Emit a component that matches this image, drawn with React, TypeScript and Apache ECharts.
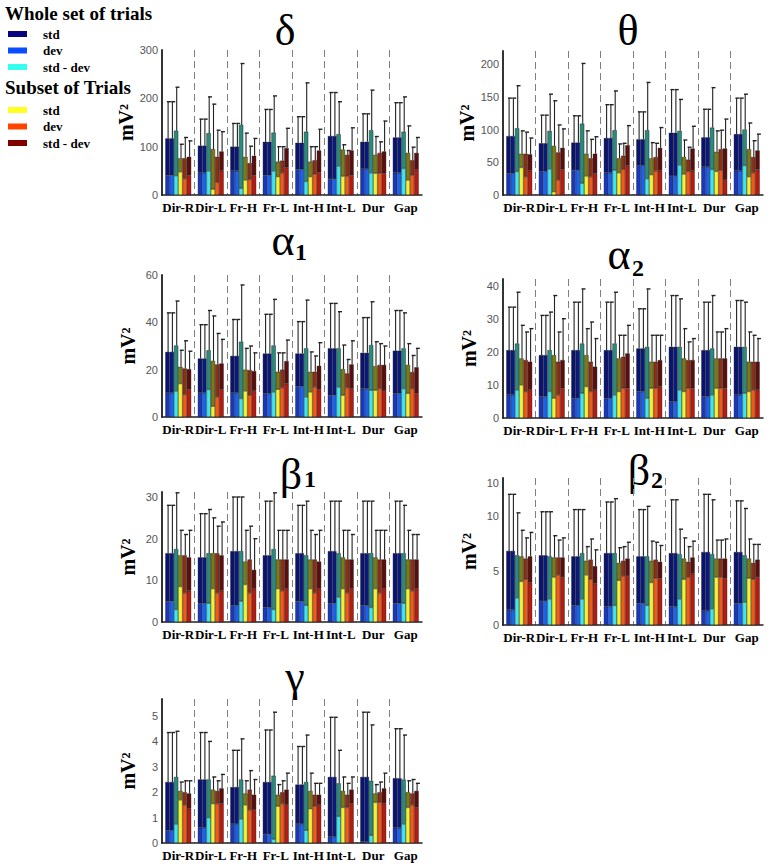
import React, { useEffect, useRef } from 'react';
import * as echarts from 'echarts';

const categories = ['Dir-R', 'Dir-L', 'Fr-H', 'Fr-L', 'Int-H', 'Int-L', 'Dur', 'Gap'];

const legendWhole = ['std', 'dev', 'std - dev'];
const legendSubset = ['std', 'dev', 'std - dev'];

// bar totals (dark top), lower part (bright), error bar top — per category, 6 bars each
const deltaTops = [[117,117,133,76,76,79],[102,102,128,95,79,90],[100,100,145,79,66,81],[110,110,129,69,71,97],[108,108,131,69,72,92],[122,122,126,94,83,92],[110,110,134,83,87,90],[119,119,131,87,72,87]];
const deltaLowers = [[41,41,40,48,34,41],[46,46,50,12,26,50],[50,50,14,31,32,41],[41,41,50,38,46,57],[53,53,28,38,43,47],[33,33,60,39,39,41],[54,54,46,45,45,45],[46,46,55,31,41,52]];
const deltaErrs = [[193,193,223,105,119,112],[157,157,203,188,134,131],[148,148,272,128,101,117],[177,177,205,100,100,138],[162,162,232,100,100,136],[212,212,193,104,92,139],[168,168,217,121,110,153],[191,191,203,143,99,119]];

const thetaTops = [[90,90,102,63,63,62],[79,79,98,75,65,72],[80,80,109,63,56,63],[87,87,99,56,60,76],[85,85,99,56,58,72],[95,95,98,58,54,71],[88,88,103,66,70,71],[93,93,100,70,58,68]];
const thetaLowers = [[33,33,36,42,28,37],[36,36,40,5,23,39],[38,38,18,29,28,33],[34,34,38,34,39,45],[45,45,25,31,37,37],[29,29,46,32,36,37],[43,43,39,36,38,23],[37,37,45,28,34,39]];
const thetaErrs = [[148,148,167,98,96,87],[122,122,154,144,107,101],[121,121,201,98,85,89],[138,138,159,78,79,106],[127,127,172,80,79,103],[161,161,146,84,73,105],[131,131,164,98,99,116],[148,148,154,110,83,93]];

const alpha1Tops = [[27.5,27.5,30.2,21.2,20.5,20.2],[24.7,24.7,28.2,23.7,22.2,22.6],[25.8,25.8,31.8,20,19.8,19.4],[26.8,26.8,30.2,19.1,20,23.6],[26.8,26.8,29,19.1,19.1,21.6],[29,29,29,20.2,18.4,22.2],[27.1,27.1,30.4,21.5,22,22],[28,28,29,22,19,21]];
const alpha1Lowers = [[10.2,10.2,11,14.1,9.5,11.7],[10.2,10.2,11.6,4.5,8.5,11.6],[10.2,10.2,7.8,11,9.2,11],[9.9,9.9,10.6,11.7,12.4,14.1],[13,13,8.5,10.6,12.7,11.6],[9.2,9.2,12.7,9.2,12.4,12],[12,12,11.3,11.3,12,11],[10,10,12,10,12,10]];
const alpha1Errs = [[44,44,49,28.2,32.2,27.8],[39,39,45,42.7,35.3,32.8],[41.2,41.2,55.8,29,30,27.1],[43.4,43.4,49.7,27.1,27.1,32.5],[40.3,40.3,49.4,27.5,25.8,31.4],[48,48,44.5,30.4,24.3,32.2],[42,42,48.7,31.8,31,30],[45,45,44,31,26,29]];

const alpha2Tops = [[20.5,20.5,22.5,18,17.5,17],[19,19,20.5,19,17,17.5],[20.5,20.5,22.5,19,17,15.5],[20.5,20.5,22.5,18,18.5,19.5],[21,21,21.5,17,17,17.5],[21.5,21.5,21.5,18,17.5,17.5],[20.5,20.5,21,18,18,18],[21.5,21.5,21.5,17,17,17]];
const alpha2Lowers = [[7,7,8.5,10,8,8.5],[6.5,6.5,8,6,7,9],[6,6,7.5,9.5,8,8.5],[6,6,7,8,9,9],[8,8,6,9,9,9.5],[5,5,8.5,8,9,9],[6.5,6.5,7,9,9,9],[7,7,7.5,8,8.5,8.5]];
const alpha2Errs = [[33.5,33.5,38,28,26,27],[31,31,32,37,26,30],[35,35,39,27,29,24],[35,35,38,25,25,28],[33,33,39,25,25,25],[37,37,36,27,23,24],[35,35,37,26,26,27],[35.5,35.5,35,26,25,24]];

const beta1Tops = [[16.5,16.5,17.5,16,16,15.5],[15.5,15.5,16.5,16.5,16.5,16],[17,17,17,14.5,15,12.5],[16,16,17.5,15,15,15],[16.5,16.5,16,15,15,14.5],[17,17,16.5,15.5,15,15],[16.5,16.5,16.5,15.5,15,15],[16.5,16.5,16.5,15,15,15]];
const beta1Lowers = [[5,5,3,8.5,7,7.5],[4.5,4.5,4.5,8,7,7.5],[4,4,5,9,7,8],[3.5,3.5,3,8,7.5,8],[5,5,4,8,7,8],[4.5,4.5,6,8,7,8],[4,4,3.5,8,7,8],[4.5,4.5,4.5,8,7.5,8]];
const beta1Errs = [[28,28,31,22,21,22],[26,26,27,25,23,24],[30,30,30,22,23,20],[29,29,31,22,22,22],[28,28,29,22,21,22],[29,29,29,22,22,21],[29,29,29,22,22,22],[29,29,28,22,21,21]];

const beta2Tops = [[6.8,6.8,6.4,6.3,6.1,6.3],[6.4,6.4,6.3,6.2,6.2,6.2],[6.3,6.3,6.6,5.9,6.0,5.4],[6.6,6.6,6.6,5.7,5.9,6.1],[6.3,6.3,6.3,5.9,6.0,5.8],[6.6,6.6,6.5,6.1,5.8,6.2],[6.7,6.7,6.5,6.1,6.1,6.1],[6.7,6.7,6.4,6.1,5.7,6.0]];
const beta2Lowers = [[1.4,1.4,2.5,4.0,4.2,3.9],[2.2,2.2,2.4,4.4,4.6,4.4],[1.8,1.8,2.4,4.6,4.2,3.8],[1.7,1.7,1.8,4.1,4.5,4.5],[2.0,2.0,1.8,3.9,4.3,4.3],[1.7,1.7,2.4,4.2,4.4,4.7],[1.3,1.3,1.5,4.4,4.4,4.3],[2.0,2.0,2.1,4.3,4.2,4.4]];
const beta2Errs = [[12,12,10.3,8.7,8.0,8.5],[10.4,10.4,10.4,8.2,7.8,8.0],[10.6,10.6,10.6,7.2,7.9,6.9],[11.3,11.3,11.6,7.1,7.2,7.6],[10.6,10.6,10.9,7.7,7.6,7.3],[11.5,11.5,8.8,8.0,7.2,7.7],[12,12,11.5,7.8,7.8,7.9],[11.4,11.4,10.7,7.9,7.4,7.4]];

const gammaTops = [[2.4,2.4,2.6,2.05,2.0,1.95],[2.5,2.5,2.5,2.1,2.05,2.15],[2.2,2.2,2.5,1.95,2.1,1.9],[2.4,2.4,2.65,1.9,2.0,2.1],[2.3,2.3,2.4,2.05,1.9,1.9],[2.6,2.6,2.35,2.05,1.9,2.1],[2.6,2.6,2.45,1.95,2.0,2.15],[2.55,2.55,2.5,2.0,1.95,2.05]];
const gammaLowers = [[0.5,0.5,0.75,1.7,1.5,1.35],[0.6,0.6,1.0,1.55,1.55,1.55],[0.75,0.75,0.95,1.5,1.3,1.3],[0.35,0.35,0.15,1.45,1.55,1.5],[0.75,0.75,0.5,1.35,1.45,1.5],[0.25,0.25,1.05,1.4,1.4,1.55],[0.05,0.05,0.3,1.6,1.6,1.55],[0.6,0.6,0.75,1.4,1.5,1.4]];
const gammaErrs = [[4.35,4.35,4.4,2.4,2.45,2.45],[4.35,4.35,4.0,2.6,2.45,2.7],[3.65,3.65,4.1,2.45,2.85,2.5],[4.45,4.45,5.15,2.3,2.45,2.75],[3.8,3.8,4.25,2.75,2.35,2.35],[4.95,4.95,3.65,2.6,2.35,2.6],[5.15,5.15,4.65,2.3,2.4,2.75],[4.5,4.5,4.25,2.45,2.5,2.35]];

const deltaTicks = [0, 100, 200, 300];
const deltaTickLabels = ['0', '100', '200', '300'];
const thetaTicks = [0, 50, 100, 150, 200];
const thetaTickLabels = ['0', '50', '100', '150', '200'];
const alpha1Ticks = [0, 20, 40, 60];
const alpha1TickLabels = ['0', '20', '40', '60'];
const alpha2Ticks = [0, 10, 20, 30, 40];
const alpha2TickLabels = ['0', '10', '20', '30', '40'];
const beta1Ticks = [0, 10, 20, 30];
const beta1TickLabels = ['0', '10', '20', '30'];
const beta2Ticks = [0, 5, 10, 13];
const beta2TickLabels = ['0', '5', '10', '10'];
const gammaTicks = [0, 1, 2, 3, 4, 5];
const gammaTickLabels = ['0', '1', '2', '3', '4', '5'];

const lowerColors = ['#1838c0', '#1c62f0', '#3ee6f0', '#f2f232', '#f25a1a', '#b81a10'];
const upperColors = ['#0a1470', '#0c1a80', '#2a8a7c', '#7a7a18', '#8a3018', '#5c0e0e'];
const legendColors = ['#06067e', '#0a4cff', '#33ffee', '#ffff22', '#ff4400', '#800000'];

const BW = 4.3;
const SERIF = '"Liberation Serif", "Times New Roman", serif';

const panels = [
  { title: 'δ', sub: '', left: 162, top: 50, height: 145, max: 300, step: 100, ticks: deltaTicks, labels: deltaTickLabels, tops: deltaTops, lowers: deltaLowers, errs: deltaErrs, tx: 285, ty: 30, sx: 0, sy: 0 },
  { title: 'θ', sub: '', left: 503, top: 51, height: 144, max: 220, step: 50, ticks: thetaTicks, labels: thetaTickLabels, tops: thetaTops, lowers: thetaLowers, errs: thetaErrs, tx: 628, ty: 30, sx: 0, sy: 0 },
  { title: 'α', sub: '1', left: 162, top: 275, height: 142, max: 60, step: 20, ticks: alpha1Ticks, labels: alpha1TickLabels, tops: alpha1Tops, lowers: alpha1Lowers, errs: alpha1Errs, tx: 283, ty: 240, sx: 301, sy: 252 },
  { title: 'α', sub: '2', left: 503, top: 279, height: 139, max: 42, step: 10, ticks: alpha2Ticks, labels: alpha2TickLabels, tops: alpha2Tops, lowers: alpha2Lowers, errs: alpha2Errs, tx: 619, ty: 254, sx: 638, sy: 268 },
  { title: 'β', sub: '1', left: 162, top: 492, height: 130, max: 31.2, step: 10, ticks: beta1Ticks, labels: beta1TickLabels, tops: beta1Tops, lowers: beta1Lowers, errs: beta1Errs, tx: 291, ty: 474, sx: 310, sy: 479 },
  { title: 'β', sub: '2', left: 503, top: 478, height: 147, max: 13.5, step: 5, ticks: beta2Ticks, labels: beta2TickLabels, tops: beta2Tops, lowers: beta2Lowers, errs: beta2Errs, tx: 639, ty: 470, sx: 657, sy: 480 },
  { title: 'γ', sub: '', left: 162, top: 699, height: 144, max: 5.67, step: 1, ticks: gammaTicks, labels: gammaTickLabels, tops: gammaTops, lowers: gammaLowers, errs: gammaErrs, tx: 295, ty: 676, sx: 0, sy: 0 },
];

function buildOption() {
  const grid: any[] = [];
  const xAxis: any[] = [];
  const yAxis: any[] = [];
  const series: any[] = [];
  const graphic: any[] = [];

  panels.forEach((p, i) => {
    grid.push({ left: p.left, top: p.top, width: 260, height: p.height, containLabel: false });
    xAxis.push({
      type: 'category', gridIndex: i, data: categories,
      axisLine: { lineStyle: { color: '#222', width: 1.5 } },
      axisTick: { show: false },
      axisLabel: { interval: 0, fontFamily: SERIF, fontWeight: 'bold', fontSize: 13, color: '#000', margin: 6 },
      splitLine: { show: true, interval: 0, showMinLine: false, showMaxLine: false, lineStyle: { color: '#808080', type: [7, 4], width: 1 } },
    });
    const ticks = p.ticks;
    const labels = p.labels;
    yAxis.push({
      type: 'value', gridIndex: i, min: 0, max: p.max, interval: p.step,
      name: 'mV²', nameLocation: 'middle', nameGap: 24, nameRotate: 90,
      nameTextStyle: { fontFamily: SERIF, fontWeight: 'bold', fontSize: 20, color: '#000' },
      axisLine: { show: true, lineStyle: { color: '#333', width: 2 } },
      axisTick: { show: false, customValues: ticks },
      splitLine: { show: false },
      axisLabel: {
        customValues: ticks,
        fontFamily: '"Liberation Sans", Arial, sans-serif', fontSize: 11, color: '#555', margin: 4,
        formatter: (v: number) => { const k = ticks.indexOf(v); return k >= 0 ? labels[k] : ''; },
      },
    });
    for (let k = 0; k < 6; k++) {
      const stack = 'p' + i + 'b' + k;
      series.push({
        type: 'bar', xAxisIndex: i, yAxisIndex: i, stack, barWidth: BW, barGap: '0%',
        itemStyle: { color: lowerColors[k], borderColor: '#111', borderWidth: 0.4 },
        data: p.lowers.map((row) => row[k]),
      });
      series.push({
        type: 'bar', xAxisIndex: i, yAxisIndex: i, stack, barWidth: BW, barGap: '0%',
        itemStyle: { color: upperColors[k], borderColor: '#111', borderWidth: 0.4 },
        data: p.tops.map((row, c) => +(row[k] - p.lowers[c][k]).toFixed(3)),
      });
    }
    const errData: number[][] = [];
    p.tops.forEach((row, c) => row.forEach((t, k) => errData.push([c, k, t, p.errs[c][k]])));
    series.push({
      type: 'custom', xAxisIndex: i, yAxisIndex: i, z: 5,
      encode: { x: 0, y: 3 },
      data: errData,
      renderItem: (params: any, api: any) => {
        const c = api.value(0), k = api.value(1), t = api.value(2), e = api.value(3);
        const p0 = api.coord([c, t]);
        const p1 = api.coord([c, e]);
        const x = p0[0] + (k - 2.5) * BW + 0.6;
        return {
          type: 'group', children: [
            { type: 'line', shape: { x1: x, y1: p0[1], x2: x, y2: p1[1] }, style: { stroke: '#222', lineWidth: 1.1 } },
            { type: 'line', shape: { x1: x - 1.2, y1: p1[1], x2: x + 2.8, y2: p1[1] }, style: { stroke: '#222', lineWidth: 1.4 } },
          ],
        };
      },
    });
    graphic.push({ type: 'text', x: p.tx, y: p.ty, style: { text: p.title, font: '44px ' + SERIF, fill: '#000', textAlign: 'center', textVerticalAlign: 'middle', align: 'center', verticalAlign: 'middle' } });
    if (p.sub) {
      graphic.push({ type: 'text', x: p.sx, y: p.sy, style: { text: p.sub, font: 'bold 24px ' + SERIF, fill: '#000', textAlign: 'center', textVerticalAlign: 'middle', align: 'center', verticalAlign: 'middle' } });
    }
  });

  const head = (text: string, y: number) => ({ type: 'text', x: 5, y, style: { text, font: 'bold 19px ' + SERIF, fill: '#000', textAlign: 'left', textVerticalAlign: 'middle', align: 'left', verticalAlign: 'middle' } });
  const item = (text: string, color: string, y: number) => [
    { type: 'rect', shape: { x: 8, y: y - 3, width: 19, height: 6 }, style: { fill: color } },
    { type: 'text', x: 43, y, style: { text, font: 'bold 13px ' + SERIF, fill: '#000', textAlign: 'left', textVerticalAlign: 'middle', align: 'left', verticalAlign: 'middle' } },
  ];
  graphic.push(head('Whole set of trials', 13));
  legendWhole.forEach((t, j) => graphic.push(...item(t, legendColors[j], 34 + j * 16.5)));
  graphic.push(head('Subset of Trials', 87));
  legendSubset.forEach((t, j) => graphic.push(...item(t, legendColors[3 + j], 110 + j * 16.5)));

  return { animation: false, backgroundColor: '#fff', grid, xAxis, yAxis, series, graphic };
}

export default function App() {
  const ref = useRef<HTMLDivElement>(null);
  useEffect(() => {
    document.body.style.margin = '0';
    const chart = echarts.init(ref.current!, null, { renderer: 'svg' });
    chart.setOption(buildOption() as any);
    return () => chart.dispose();
  }, []);
  return <div ref={ref} style={{ width: 773, height: 866 }} />;
}
